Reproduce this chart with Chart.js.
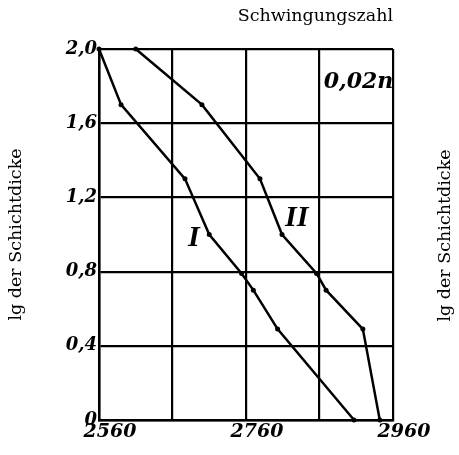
<!DOCTYPE html>
<html>
<head>
<meta charset="utf-8">
<script src="https://cdn.jsdelivr.net/npm/chart.js@4"></script>
<style>
  html, body { margin: 0; padding: 0; background: #fff; }
  #wrap { width: 459px; height: 455px; position: relative; }
</style>
</head>
<body>
<div id="wrap"><canvas id="schichtChart"></canvas></div>
<script>
// Kurve I und II: Schwingungszahl gegen lg der Schichtdicke
const freqI = [2560, 2590, 2677, 2710, 2754, 2770, 2803, 2907];
const lgI   = [2.0, 1.70, 1.30, 1.00, 0.79, 0.70, 0.49, 0];
const freqII = [2610, 2700, 2779, 2809, 2856, 2869, 2919, 2942];
const lgII   = [2.0, 1.70, 1.30, 1.00, 0.79, 0.70, 0.49, 0];

const xLabels = [2560, 2760, 2960];

const serif = "'DejaVu Serif', serif";

const toPoints = (xs, ys) => xs.map((x, i) => ({x: x, y: ys[i]}));

// beschriftungen im diagramm + rechte achsenbeschriftung
const notes = {
  id: 'notes',
  afterDraw(chart) {
    const ctx = chart.ctx;
    const sx = chart.scales.x, sy = chart.scales.y;
    ctx.save();
    ctx.fillStyle = '#000';
    ctx.textAlign = 'center';
    ctx.textBaseline = 'middle';
    ctx.font = "italic bold 30px 'Liberation Serif', serif";
    ctx.fillText('I', sx.getPixelForValue(2689), sy.getPixelForValue(0.98));
    ctx.fillText('II', sx.getPixelForValue(2829), sy.getPixelForValue(1.09));
    ctx.font = "italic bold 22px " + serif;
    ctx.fillText('0,02n', sx.getPixelForValue(2913), sy.getPixelForValue(1.82));

    ctx.font = "17.5px " + serif;
    ctx.translate(445, (chart.chartArea.top + chart.chartArea.bottom) / 2 + 1);
    ctx.rotate(-Math.PI / 2);
    ctx.fillText('lg der Schichtdicke', 0, 0);
    ctx.restore();
  }
};

const lineStyle = {
  borderColor: '#000',
  borderWidth: 2.5,
  pointRadius: 2.5,
  pointBackgroundColor: '#000',
  pointBorderWidth: 0,
  tension: 0,
  clip: false
};

new Chart(document.getElementById('schichtChart'), {
  type: 'line',
  data: {
    datasets: [
      Object.assign({label: 'I', data: toPoints(freqI, lgI)}, lineStyle),
      Object.assign({label: 'II', data: toPoints(freqII, lgII)}, lineStyle)
    ]
  },
  options: {
    responsive: true,
    maintainAspectRatio: false,
    animation: false,
    layout: { padding: { left: 0, right: 66, top: 0, bottom: 0 } },
    plugins: {
      legend: { display: false },
      tooltip: { enabled: false },
      title: {
        display: true,
        text: 'Schwingungszahl',
        align: 'end',
        color: '#000',
        font: { family: serif, size: 17.5, weight: 'normal', lineHeight: 1.2 },
        padding: { top: 5.5, bottom: 22.5 }
      }
    },
    scales: {
      x: {
        type: 'linear',
        min: 2560,
        max: 2960,
        afterFit: s => { s.height = 35; },
        border: { color: '#000', width: 2.5 },
        grid: { color: '#000', lineWidth: 2.2, drawTicks: false },
        ticks: {
          stepSize: 100,
          padding: 1,
          labelOffset: 11,
          maxRotation: 0,
          autoSkip: false,
          color: '#000',
          font: { family: serif, size: 19, style: 'italic', weight: 'bold' },
          callback: v => xLabels.includes(v) ? String(v) : ''
        }
      },
      y: {
        min: 0,
        max: 2.0,
        afterFit: s => { s.width = 99; },
        border: { color: '#000', width: 2.5 },
        grid: { color: '#000', lineWidth: 2.2, drawTicks: false },
        title: {
          display: true,
          text: 'lg der Schichtdicke',
          color: '#000',
          font: { family: serif, size: 17.5, weight: 'normal', lineHeight: 1.2 },
          padding: { top: 5.5, bottom: 0 }
        },
        ticks: {
          stepSize: 0.4,
          padding: 2,
          color: '#000',
          font: { family: serif, size: 18, style: 'italic', weight: 'bold' },
          callback: v => v === 0 ? '0' : v.toFixed(1).replace('.', ',')
        }
      }
    }
  },
  plugins: [notes]
});
</script>
</body>
</html>
